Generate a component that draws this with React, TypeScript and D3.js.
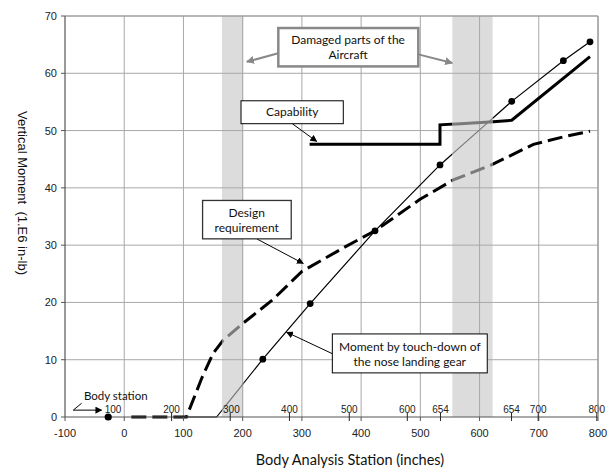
import React from 'react';
import * as d3 from 'd3';

const W = 610;
const H = 468;

// Axis ticks
const xTicks = [-100, 0, 100, 200, 300, 400, 500, 600, 700, 800];
const yTicks = [0, 10, 20, 30, 40, 50, 60, 70];

// Damaged bands (body analysis station ranges)
const bandStart = [165, 554];
const bandEnd = [201, 622];

// Moment by touch-down of the nose landing gear
const momentX = [105, 156, 234, 314, 423.5, 533.2, 654.3, 741.5, 786.5];
const momentY = [0, 0, 10.1, 19.8, 32.5, 44.0, 55.1, 62.2, 65.5];
const momentDotIdx = [2, 3, 4, 5, 6, 7, 8];

// Design requirement
const designX = [12, 105, 131, 150, 167, 201, 250, 300, 373, 423.5, 499.5, 555.7, 620, 691, 741.5, 786.5];
const designY = [0, 0, 6.8, 11.1, 13.4, 16.4, 20.4, 25.4, 29.7, 32.5, 38.0, 41.4, 44.0, 47.6, 48.9, 49.9];

// Capability
const capX = [313, 533.2, 533.2, 617, 654.3, 786.5];
const capY = [47.6, 47.6, 51.0, 51.5, 51.8, 62.9];

// Body station marks
const stationLabels = ['100', '200', '300', '400', '500', '600', '654', '654', '700', '800'];
const stationX = [-27, 80, 179, 279, 380, 478, 534, 654, 699, 798];
const stationLabelX = [-19, 80, 181, 279, 380, 478, 534, 654, 699, 798];

export default function App() {
  const x = d3.scaleLinear().domain([-100, 800]).range([65, 598]);
  const y = d3.scaleLinear().domain([0, 70]).range([417, 16]);

  const line = d3.line<[number, number]>().x(d => x(d[0])).y(d => y(d[1]));
  const moment: [number, number][] = momentX.map((v, i) => [v, momentY[i]]);
  const design: [number, number][] = designX.map((v, i) => [v, designY[i]]);
  const cap: [number, number][] = capX.map((v, i) => [v, capY[i]]);

  const x0 = x(-100), x1 = x(800), yTop = y(70), yBot = y(0);
  const tickFont = "'Liberation Sans', Arial, sans-serif";
  const noteFont = "Lato, 'Open Sans', sans-serif";
  const nfs = 12;

  const Box = ({ xa, xb, ya, yb, stroke, sw }: any) => (
    <rect x={x(xa)} y={y(ya)} width={x(xb) - x(xa)} height={y(yb) - y(ya)} fill="#fff" stroke={stroke} strokeWidth={sw} />
  );
  const Arrow = ({ a, b, color, m }: any) => (
    <line x1={x(a[0])} y1={y(a[1])} x2={x(b[0])} y2={y(b[1])} stroke={color} strokeWidth={color === '#000' ? 1 : 2} markerEnd={`url(#${m})`} />
  );

  return (
    <svg width={W} height={H} style={{ position: 'absolute', left: 0, top: 0, background: '#fff' }}>
      <defs>
        <marker id="ab" viewBox="0 0 10 10" refX="9" refY="5" markerWidth="7" markerHeight="7" orient="auto" markerUnits="userSpaceOnUse">
          <path d="M0,0 L10,5 L0,10 z" fill="#000" />
        </marker>
        <marker id="ag" viewBox="0 0 10 10" refX="9" refY="5" markerWidth="8" markerHeight="8" orient="auto" markerUnits="userSpaceOnUse">
          <path d="M0,0 L10,5 L0,10 z" fill="#888" />
        </marker>
        <clipPath id="bands">
          {bandStart.map((b, i) => (
            <rect key={i} x={x(b)} y={yTop} width={x(bandEnd[i]) - x(b)} height={yBot - yTop} />
          ))}
        </clipPath>
      </defs>

      {/* grid */}
      {xTicks.slice(1).map(t => (
        <line key={t} x1={x(t)} x2={x(t)} y1={yTop} y2={yBot} stroke="#a8a8a8" strokeWidth={1} />
      ))}
      {yTicks.slice(1).map(t => (
        <line key={t} x1={x0} x2={x1} y1={y(t)} y2={y(t)} stroke="#a8a8a8" strokeWidth={1} />
      ))}

      {/* series black */}
      <path d={line(design)!} fill="none" stroke="#000" strokeWidth={3} strokeDasharray="15,6" />
      <path d={line(moment)!} fill="none" stroke="#000" strokeWidth={1.2} />
      <path d={line(cap)!} fill="none" stroke="#000" strokeWidth={3} />
      {/* grey bands with grey series inside */}
      <g clipPath="url(#bands)">
        <rect x={x0} y={yTop} width={x1 - x0} height={yBot - yTop} fill="#dcdcdc" />
        {xTicks.map(t => (
          <line key={t} x1={x(t)} x2={x(t)} y1={yTop} y2={yBot} stroke="#a8a8a8" strokeWidth={1} />
        ))}
        {yTicks.slice(1).map(t => (
          <line key={t} x1={x0} x2={x1} y1={y(t)} y2={y(t)} stroke="#a8a8a8" strokeWidth={1} />
        ))}
        <path d={line(design)!} fill="none" stroke="#7a7a7a" strokeWidth={3} strokeDasharray="15,6" />
        <path d={line(moment)!} fill="none" stroke="#7a7a7a" strokeWidth={1.2} />
        <path d={line(cap)!} fill="none" stroke="#7a7a7a" strokeWidth={3} />
      </g>
      {momentDotIdx.map(i => (
        <circle key={i} cx={x(momentX[i])} cy={y(momentY[i])} r={3.4} fill="#000" />
      ))}

      {/* axes */}
      <line x1={x0} x2={x0} y1={yTop} y2={yBot} stroke="#555" strokeWidth={1.2} />
      <line x1={x0} x2={x1} y1={yBot} y2={yBot} stroke="#555" strokeWidth={1.2} />
      {yTicks.map(t => (
        <line key={t} x1={x0 - 4} x2={x0} y1={y(t)} y2={y(t)} stroke="#555" />
      ))}
      {xTicks.map(t => (
        <line key={t} x1={x(t)} x2={x(t)} y1={yBot} y2={yBot + 4} stroke="#555" />
      ))}
      {yTicks.map(t => (
        <text key={t} x={x0 - 8} y={y(t) + 4} textAnchor="end" fontFamily={tickFont} fontSize={11} fill="#222">{t}</text>
      ))}
      {xTicks.map(t => (
        <text key={t} x={x(t)} y={yBot + 20} textAnchor="middle" fontFamily={tickFont} fontSize={11} fill="#222">{t}</text>
      ))}

      {/* body station marks */}
      {stationX.map((s, i) => (
        <g key={i}>
          {i > 0 && <line x1={x(s)} x2={x(s)} y1={yBot - 4} y2={yBot + 4} stroke="#222" strokeWidth={1} />}
          <text x={x(stationLabelX[i])} y={yBot - 4} textAnchor="middle" fontFamily={tickFont} fontSize={10} fill="#222">{stationLabels[i]}</text>
        </g>
      ))}
      <circle cx={x(stationX[0])} cy={y(0)} r={3.6} fill="#000" />

      {/* border */}
      <line x1={x0} x2={x1} y1={yTop} y2={yTop} stroke="#999" strokeWidth={1.2} />
      <line x1={x1} x2={x1} y1={yTop} y2={yBot} stroke="#999" strokeWidth={1.2} />

      {/* annotations */}
      <Arrow a={[260, 63.5]} b={[207, 62.0]} color="#888" m="ag" />
      <Arrow a={[496.6, 63.3]} b={[554, 61.8]} color="#888" m="ag" />
      <Box xa={260.2} xb={496.6} ya={67.9} yb={61.2} stroke="#888" sw={2.5} />
      <text x={x(378)} y={y(65.8) + 4} textAnchor="middle" fontFamily={noteFont} fontSize={nfs} fill="#111">Damaged parts of the</text>
      <text x={x(378)} y={y(63.2) + 4} textAnchor="middle" fontFamily={noteFont} fontSize={nfs} fill="#111">Aircraft</text>

      <Arrow a={[283.8, 51.2]} b={[325, 48.1]} color="#000" m="ab" />
      <Box xa={197.2} xb={369.9} ya={55.2} yb={51.2} stroke="#000" sw={1} />
      <text x={x(283.8)} y={y(53.2) + 4} textAnchor="middle" fontFamily={noteFont} fontSize={nfs} fill="#111">Capability</text>

      <Arrow a={[223.7, 31.1]} b={[302.3, 26.8]} color="#000" m="ab" />
      <Box xa={132.3} xb={282} ya={37.8} yb={31.1} stroke="#333" sw={1.3} />
      <text x={x(206.8)} y={y(35.6) + 4} textAnchor="middle" fontFamily={noteFont} fontSize={nfs} fill="#111">Design</text>
      <text x={x(206.8)} y={y(33.0) + 4} textAnchor="middle" fontFamily={noteFont} fontSize={nfs} fill="#111">requirement</text>

      <Arrow a={[351.4, 11.05]} b={[274.3, 14.8]} color="#000" m="ab" />
      <Box xa={351.4} xb={613} ya={14.5} yb={7.7} stroke="#000" sw={1} />
      <text x={x(482.2)} y={y(12.3) + 4} textAnchor="middle" fontFamily={noteFont} fontSize={nfs} fill="#111">Moment by touch-down of</text>
      <text x={x(482.2)} y={y(9.6) + 4} textAnchor="middle" fontFamily={noteFont} fontSize={nfs} fill="#111">the nose landing gear</text>

      <text x={x(-68)} y={y(2.9)} fontFamily={noteFont} fontSize={11.5} fill="#111">Body station</text>
      <polyline points={`${x(-72)},${y(2.4)} ${x(-86)},${y(1.2)} ${x(-38)},${y(1.2)}`} fill="none" stroke="#000" strokeWidth={1} markerEnd="url(#ab)" />

      {/* axis titles */}
      <text transform={`translate(18,193) rotate(90)`} textAnchor="middle" fontFamily={tickFont} fontSize={13} fill="#111" style={{ whiteSpace: 'pre' }}>{'Vertical Moment  (1.E6 in-lb)'}</text>
      <text x={350} y={465} textAnchor="middle" fontFamily={noteFont} fontSize={14.5} fill="#111">Body Analysis Station (inches)</text>
    </svg>
  );
}
